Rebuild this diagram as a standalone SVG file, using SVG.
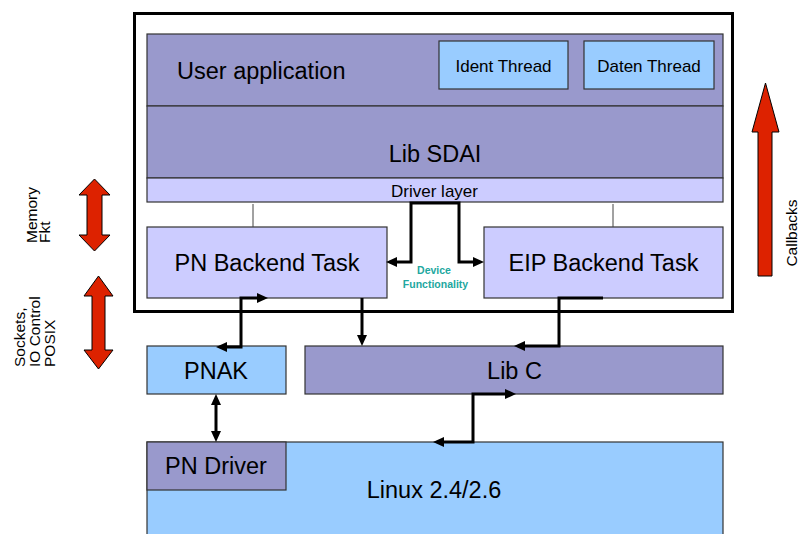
<svg xmlns="http://www.w3.org/2000/svg" width="801" height="534" viewBox="0 0 801 534">
<defs>
<style>
text{font-family:"Liberation Sans",Arial,sans-serif;fill:#000}
.big{font-size:23.5px}
.mid{font-size:17px}
.side{font-size:15.5px}
.dev{font-size:10.5px;font-weight:bold;fill:#22a7a0}
.purple{fill:#9999cc;stroke:#333;stroke-width:1.2}
.lav{fill:#ccccff;stroke:#333;stroke-width:1.2}
.blue{fill:#99ccff;stroke:#333;stroke-width:1.2}
.conn{fill:none;stroke:#000;stroke-width:3}
.thin{stroke:#444;stroke-width:1}
.red{fill:#dd2200;stroke:#000;stroke-width:1}
</style>
<marker id="ah" viewBox="0 0 11 10" markerUnits="userSpaceOnUse" markerWidth="11" markerHeight="10" refX="3" refY="5" orient="auto-start-reverse">
<path d="M0,0 L11,5 L0,10 z" fill="#000"/>
</marker>
</defs>
<rect width="801" height="534" fill="#fff"/>

<g id="outer-box">
<rect x="134.5" y="13.5" width="598" height="298" fill="none" stroke="#000" stroke-width="3"/>
</g>

<g id="user-application">
<rect class="purple" x="147" y="34" width="576" height="72"/>
<text class="big" x="177" y="79">User application</text>
</g>
<g id="ident-thread">
<rect class="blue" x="439" y="41" width="129" height="48"/>
<text class="mid" x="503.5" y="72" text-anchor="middle">Ident Thread</text>
</g>
<g id="daten-thread">
<rect class="blue" x="584" y="41" width="130" height="48"/>
<text class="mid" x="649" y="72" text-anchor="middle">Daten Thread</text>
</g>
<g id="lib-sdai">
<rect class="purple" x="147" y="106" width="576" height="72"/>
<text class="big" x="435" y="162" text-anchor="middle">Lib SDAI</text>
</g>
<g id="driver-layer">
<rect class="lav" x="147" y="178" width="576" height="24"/>
<text class="mid" x="434.5" y="197" text-anchor="middle">Driver layer</text>
</g>
<g id="pn-backend">
<rect class="lav" x="147" y="227" width="240" height="71"/>
<text class="big" x="267" y="271" text-anchor="middle">PN Backend Task</text>
</g>
<g id="eip-backend">
<rect class="lav" x="484" y="227" width="239" height="71"/>
<text class="big" x="603.5" y="271" text-anchor="middle">EIP Backend Task</text>
</g>
<g id="device-functionality">
<text class="dev" x="434" y="274" text-anchor="middle">Device</text>
<text class="dev" x="435.5" y="288" text-anchor="middle">Functionality</text>
</g>
<g id="pnak">
<rect class="blue" x="147" y="346" width="139" height="48"/>
<text class="big" x="216" y="379" text-anchor="middle">PNAK</text>
</g>
<g id="lib-c">
<rect class="purple" x="305" y="346" width="418" height="48"/>
<text class="big" x="514.5" y="379" text-anchor="middle">Lib C</text>
</g>
<g id="linux">
<rect class="blue" x="147" y="442" width="576" height="100"/>
<text class="big" x="434" y="498" text-anchor="middle">Linux 2.4/2.6</text>
</g>
<g id="pn-driver">
<rect class="purple" x="147" y="442" width="139" height="48"/>
<text class="big" x="216" y="474" text-anchor="middle">PN Driver</text>
</g>

<g id="memory-arrow">
<polygon class="red" points="94.5,179 110,195 102,195 102,235 110,235 94.5,251 79,235 87,235 87,195 79,195"/>
<text class="side" transform="translate(37,243) rotate(-90)">Memory<tspan x="0" dy="13">Fkt</tspan></text>
</g>
<g id="sockets-arrow">
<polygon class="red" points="98.5,276 113,296 105,296 105,350 113,350 98.5,369 84,350 92,350 92,296 84,296"/>
<text class="side" transform="translate(25,367) rotate(-90)">Sockets,<tspan x="0" dy="15">IO Control</tspan><tspan x="0" dy="15">POSIX</tspan></text>
</g>
<g id="callbacks-arrow">
<polygon class="red" points="765.5,83 779,132 772,132 772,276 758,276 758,132 752,132"/>
<text class="side" transform="translate(797,233) rotate(-90)" text-anchor="middle">Callbacks</text>
</g>

<g id="connectors">
<line class="thin" x1="253" y1="204" x2="253" y2="227"/>
<line class="thin" x1="613" y1="204" x2="613" y2="227"/>
<path class="conn" d="M394,262 H411 V203 H459 V262 H476" marker-start="url(#ah)" marker-end="url(#ah)"/>
<path class="conn" d="M224,347 H241 V298 H260" marker-start="url(#ah)" marker-end="url(#ah)"/>
<path class="conn" d="M362,298 V338" marker-end="url(#ah)"/>
<path class="conn" d="M603,298 H559 V346 H522" marker-end="url(#ah)"/>
<path class="conn" d="M216,402 V434" marker-start="url(#ah)" marker-end="url(#ah)"/>
<path class="conn" d="M508,394 H473 V442 H441" marker-start="url(#ah)" marker-end="url(#ah)"/>
</g>
</svg>
